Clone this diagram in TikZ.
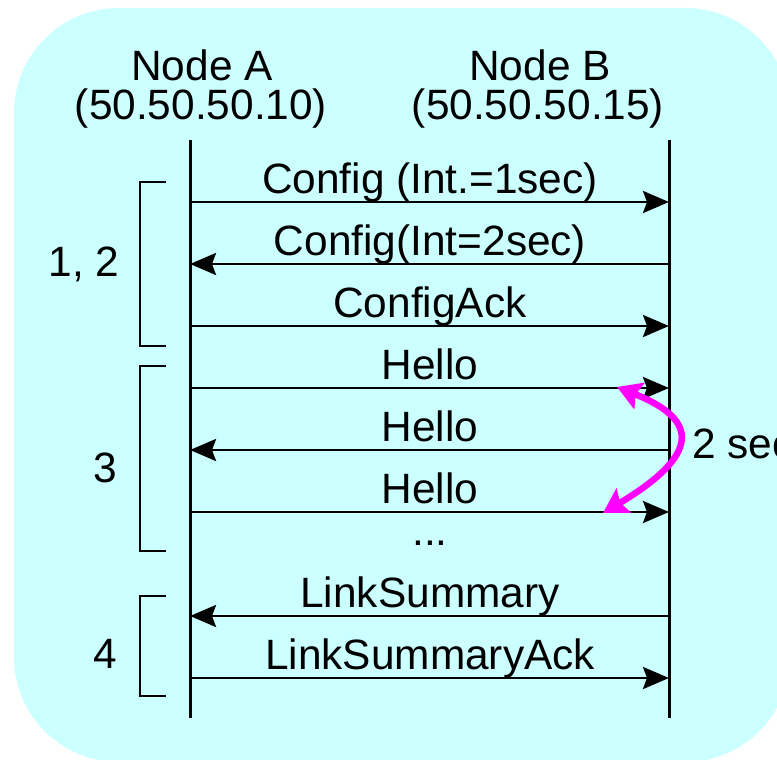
\documentclass[tikz,border=0pt]{standalone}
\usepackage{fontspec}
\setmainfont{Liberation Sans}
\usetikzlibrary{arrows.meta}
\definecolor{bgcyan}{HTML}{CCFFFF}
\definecolor{mag}{HTML}{FF00FF}
\begin{document}
\begin{tikzpicture}[x=1pt,y=-1pt,
  txt/.style={inner sep=0pt,anchor=base,font=\fontsize{42.4}{50}\selectfont},
  life/.style={line width=3pt},
  msg/.style={line width=2.8pt,-{Stealth[length=26pt,width=22pt,inset=4pt]}},
  brk/.style={line width=2.8pt},
  timer/.style={line width=6.5pt,mag,{Stealth[length=24pt,width=28pt,inset=4pt]}-{Stealth[length=24pt,width=28pt,inset=4pt]}}]
\useasboundingbox (0,0) rectangle (777,760);
\fill[bgcyan,rounded corners=105pt] (14,8) rectangle (790,762);
% headers
\node[txt] (hA) at (202,81) {Node A};
\node[txt] (iA) at (201,120) {(50.50.50.10)};
\node[txt] (hB) at (540,81) {Node B};
\node[txt] (iB) at (538,120) {(50.50.50.15)};
% lifelines
\coordinate (At) at (190,140); \coordinate (Ab) at (190,718);
\coordinate (Bt) at (669,140); \coordinate (Bb) at (669,718);
\draw[life] (At) -- (Ab);
\draw[life] (Bt) -- (Bb);
% message coordinates
\foreach \i/\y in {1/202,2/264,3/326,4/388,5/450,6/512,7/616,8/678}{
  \coordinate (a\i) at (190,\y);
  \coordinate (b\i) at (669,\y);
}
\draw[msg] (a1) -- (b1);
\draw[msg] (b2) -- (a2);
\draw[msg] (a3) -- (b3);
\draw[msg] (a4) -- (b4);
\draw[msg] (b5) -- (a5);
\draw[msg] (a6) -- (b6);
\draw[msg] (b7) -- (a7);
\draw[msg] (a8) -- (b8);
% labels
\node[txt] (l1) at (430,193) {Config (Int.=1sec)};
\node[txt] (l2) at (430,255) {Config(Int=2sec)};
\node[txt] (l3) at (430,317) {ConfigAck};
\node[txt] (l4) at (430,379) {Hello};
\node[txt] (l5) at (430,441) {Hello};
\node[txt] (l6) at (430,503) {Hello};
\node[txt] (l7) at (430,545) {...};
\node[txt] (l8) at (430,607) {LinkSummary};
\node[txt] (l9) at (430,669) {LinkSummaryAck};
% brackets
\draw[brk] (166,182) -- (140,182) -- (140,346) -- (166,346);
\draw[brk] (166,366) -- (140,366) -- (140,551) -- (166,551);
\draw[brk] (166,596) -- (140,596) -- (140,696) -- (166,696);
\node[txt] (g1) at (84,276) {1, 2};
\node[txt] (g2) at (105,482) {3};
\node[txt] (g3) at (105,668) {4};
% timer
\coordinate (t1) at (617,387);
\coordinate (t2) at (603,513);
\draw[timer] (t1) .. controls (700,420) and (700,455) .. (t2);
\node[txt,anchor=base west] (ts) at (692,458) {2 sec};
\end{tikzpicture}
\end{document}
